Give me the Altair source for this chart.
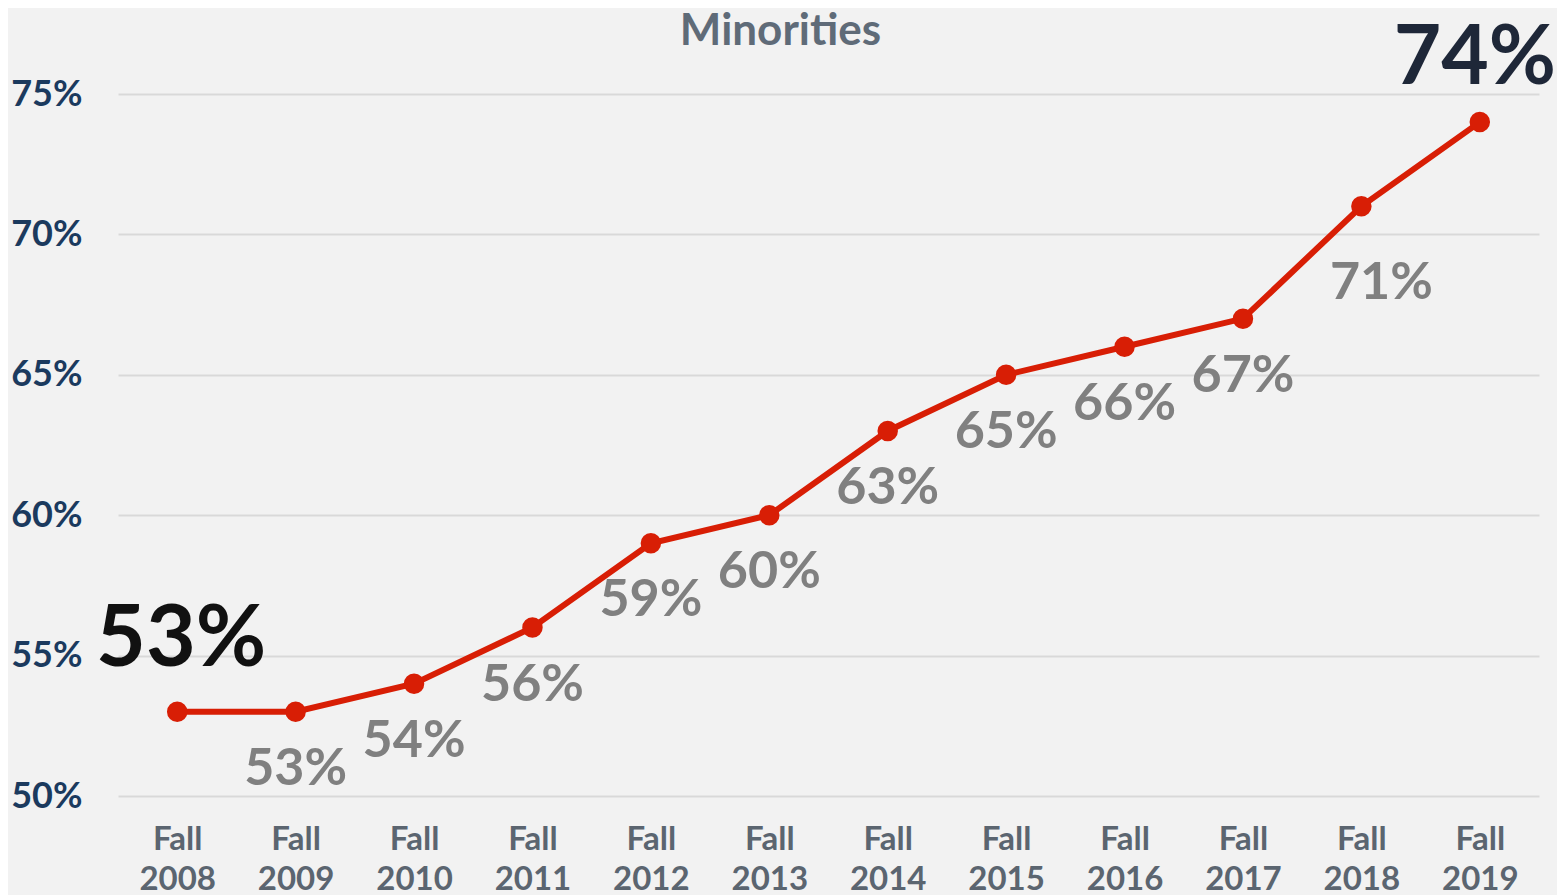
import altair as alt
import pandas as pd

years = ["Fall 2008", "Fall 2009", "Fall 2010", "Fall 2011", "Fall 2012", "Fall 2013",
         "Fall 2014", "Fall 2015", "Fall 2016", "Fall 2017", "Fall 2018", "Fall 2019"]
values = [53, 53, 54, 56, 59, 60, 63, 65, 66, 67, 71, 74]
y_ticks = [50, 55, 60, 65, 70, 75]

df = pd.DataFrame({"year": years, "value": values})
df["label"] = df["value"].astype(str) + "%"
df_mid = df.iloc[1:-2]
df_2018 = df.iloc[[-2]]
df_first = df.iloc[[0]]
df_last = df.iloc[[-1]]

FONT = "Lato"

x = alt.X("year:N", sort=years, title=None,
          scale=alt.Scale(paddingInner=0, paddingOuter=0.5),
          axis=alt.Axis(labelExpr="split(datum.value, ' ')", labelAngle=0,
                        labelFont=FONT, labelFontSize=33, labelFontWeight="bold",
                        labelColor="#5b6570", labelPadding=27, labelLineHeight=40,
                        domain=False, ticks=False, grid=False))
y = alt.Y("value:Q", title=None,
          scale=alt.Scale(domain=[50, 75], nice=False, zero=False),
          axis=alt.Axis(values=y_ticks, labelExpr="datum.value + '%'",
                        labelFont=FONT, labelFontSize=36, labelFontWeight="bold",
                        labelColor="#1b3a5e", labelPadding=36,
                        domain=False, ticks=False, grid=True,
                        gridColor="#d9d9d9", gridWidth=2))

base = alt.Chart(df).encode(x=x, y=y)
line = base.mark_line(color="#d81e05", strokeWidth=6)
pts = base.mark_circle(color="#d81e05", size=420, opacity=1)

xs = alt.X("year:N", sort=years)

mid_labels = alt.Chart(df_mid).mark_text(
    font=FONT, fontSize=52, fontWeight="bold", color="#808080", dy=57
).encode(x=xs, y="value:Q", text="label:N")

label_2018 = alt.Chart(df_2018).mark_text(
    font=FONT, fontSize=52, fontWeight="bold", color="#808080", dy=77, dx=20
).encode(x=xs, y="value:Q", text="label:N")

first_label = alt.Chart(df_first).mark_text(
    font=FONT, fontSize=86, fontWeight="bold", color="#111111", dy=-72, dx=4
).encode(x=xs, y="value:Q", text="label:N")

last_label = alt.Chart(df_last).mark_text(
    font=FONT, fontSize=82, fontWeight="bold", color="#1e2738", dy=-63, dx=-5
).encode(x=xs, y="value:Q", text="label:N")

chart = alt.layer(line, pts, mid_labels, label_2018, first_label, last_label).properties(
    width=1421, height=702,
    title=alt.TitleParams("Minorities", font=FONT, fontSize=44, fontWeight="bold",
                          color="#5f6b78", anchor="middle", frame="group",
                          offset=-36, dx=-48),
    background="#f2f2f2",
    padding={"left": 110, "top": 86, "right": 18, "bottom": 99},
    autosize=alt.AutoSizeParams(type="none"),
).configure_view(stroke=None)

chart.save("out.html", embed_options={"renderer": "svg", "actions": False})
